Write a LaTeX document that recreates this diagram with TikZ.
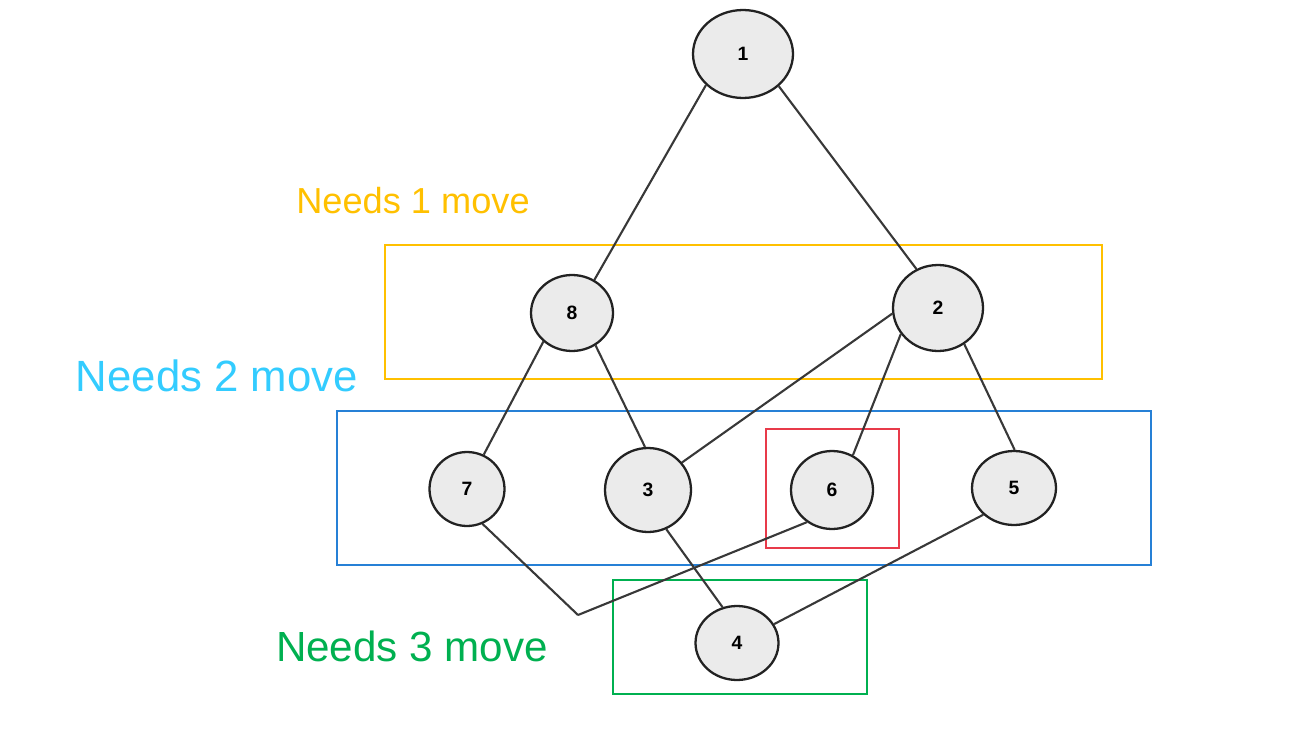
\documentclass[tikz,border=0pt]{standalone}
\usepackage{fontspec}
\setmainfont{Liberation Sans}
\usepackage{tikz}
\usetikzlibrary{shapes.geometric}
\definecolor{nodeFill}{RGB}{235,235,235}
\definecolor{inkGray}{RGB}{34,34,34}
\definecolor{moveGold}{RGB}{255,192,0}
\definecolor{moveSky}{RGB}{51,204,255}
\definecolor{moveBlue}{RGB}{38,128,214}
\definecolor{moveRed}{RGB}{232,58,74}
\definecolor{moveGreen}{RGB}{0,176,80}

\begin{document}
\begin{tikzpicture}[
    x=0.02cm, y=-0.02cm,
    vert/.style={ellipse, draw=inkGray, fill=nodeFill, line width=1.3pt, inner sep=0pt, font=\fontsize{11}{13}\selectfont\bfseries},
    link/.style={draw=inkGray!90, line width=1.2pt},
    zone/.style={draw=#1, line width=1.1pt},
    tag/.style={text=#1, anchor=center}
]
\useasboundingbox (0,0) rectangle (1291,750);
% groups
\draw[zone=moveGold] (385,245) rectangle (1102,379);
\draw[zone=moveBlue] (337,411) rectangle (1151,565);
\draw[zone=moveRed] (766,429) rectangle (899,548);
\draw[zone=moveGreen] (613,580) rectangle (867,694);
\node[tag=moveGold, font=\fontsize{20.6}{24}\selectfont] (need1) at (413,201) {Needs 1 move};
\node[tag=moveSky, font=\fontsize{24.9}{29}\selectfont] (need2) at (217,376) {Needs 2 move};
\node[tag=moveGreen, font=\fontsize{24}{28}\selectfont] (need3) at (412,646) {Needs 3 move};
% tree
\node[vert, minimum width=2.0cm, minimum height=1.76cm] (n1) at (743,54) {1};
\node[vert, minimum width=1.64cm, minimum height=1.52cm] (n8) at (572,313) {8};
\node[vert, minimum width=1.8cm, minimum height=1.72cm] (n2) at (938,308) {2};
\node[vert, minimum width=1.5cm, minimum height=1.48cm] (n7) at (467,489) {7};
\node[vert, minimum width=1.72cm, minimum height=1.68cm] (n3) at (648,490) {3};
\node[vert, minimum width=1.64cm, minimum height=1.56cm] (n6) at (832,490) {6};
\node[vert, minimum width=1.68cm, minimum height=1.48cm] (n5) at (1014,488) {5};
\node[vert, minimum width=1.66cm, minimum height=1.48cm] (n4) at (737,643) {4};
\coordinate (meet) at (578,615);
\draw[link] (n1.220) -- (n8.56);
\draw[link] (n1.318) -- (n2.119);
\draw[link] (n8.225) -- (n7.64);
\draw[link] (n8.306) -- (n3.94);
\draw[link] (n2.187) -- (n3.39);
\draw[link] (n2.215) -- (n6.59);
\draw[link] (n2.306) -- (n5.89);
\draw[link] (n7.294) -- (meet);
\draw[link] (n6.232) -- (meet);
\draw[link] (n3.295) -- (n4.112);
\draw[link] (n5.221) -- (n4.27);
\end{tikzpicture}
\end{document}
